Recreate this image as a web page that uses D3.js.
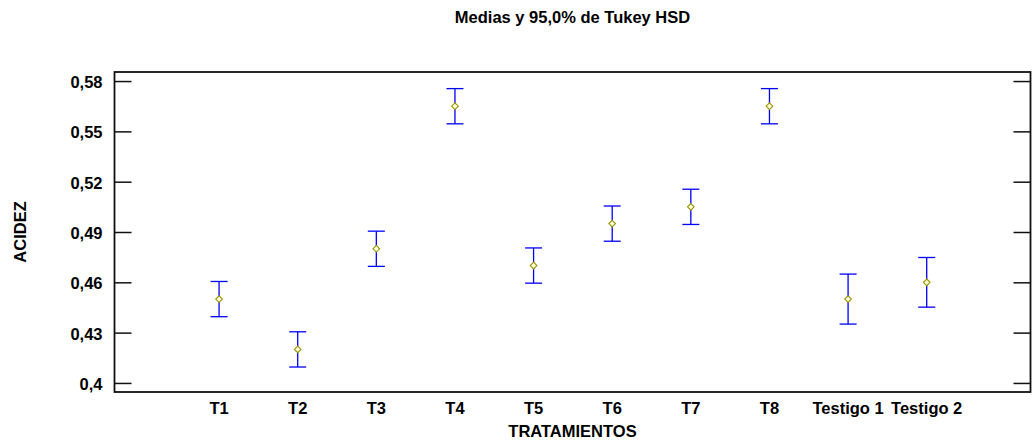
<!DOCTYPE html>
<html>
<head>
<meta charset="utf-8">
<script src="https://cdn.jsdelivr.net/npm/d3@7"></script>
<style>
  html, body { margin: 0; padding: 0; background: #fff; }
  svg text { font-family: "Liberation Sans", Arial, sans-serif; font-weight: bold; fill: #000; }
</style>
</head>
<body>
<svg id="chart" width="1035" height="444"></svg>
<script>
// Treatment groups and their Tukey HSD 95% intervals for acidity
const categories = ["T1", "T2", "T3", "T4", "T5", "T6", "T7", "T8", "Testigo 1", "Testigo 2"];
const means = [0.45, 0.42, 0.48, 0.565, 0.47, 0.495, 0.505, 0.565, 0.45, 0.46];
const lower = [0.4395, 0.4095, 0.4695, 0.5545, 0.4595, 0.4845, 0.4945, 0.5545, 0.4351, 0.4452];
const upper = [0.4605, 0.4305, 0.4905, 0.5755, 0.4805, 0.5055, 0.5155, 0.5755, 0.4649, 0.4748];

const yTickValues = [0.58, 0.55, 0.52, 0.49, 0.46, 0.43, 0.40];
const yTickLabels = ["0,58", "0,55", "0,52", "0,49", "0,46", "0,43", "0,4"];

const title = "Medias y 95,0% de Tukey HSD";
const xTitle = "TRATAMIENTOS";
const yTitle = "ACIDEZ";

const svg = d3.select("#chart");
const plot = { left: 114.5, right: 1030.5, top: 72, bottom: 392 };
const fontSize = 16.5;

const x = d3.scaleLinear().domain([-0.33, 11.32]).range([plot.left, plot.right]);
const y = d3.scaleLinear().domain([0.3946, 0.5854]).range([plot.bottom, plot.top]);

// title
svg.append("text")
  .attr("x", (plot.left + plot.right) / 2).attr("y", 22.5)
  .attr("text-anchor", "middle")
  .style("font-size", fontSize + "px")
  .text(title);

// left axis: labels outside, ticks pointing into the plot
const yAxisLeft = d3.axisLeft(y)
  .tickValues(yTickValues)
  .tickFormat((d, i) => yTickLabels[i])
  .tickSize(-17)
  .tickPadding(12);
const gl = svg.append("g").attr("transform", `translate(${plot.left},0)`).call(yAxisLeft);
gl.select(".domain").remove();
gl.selectAll(".tick line").attr("stroke", "#111").attr("stroke-width", 1.5);
gl.selectAll(".tick text")
  .style("font-size", fontSize + "px")
  .style("font-family", "'Liberation Sans', Arial, sans-serif")
  .style("font-weight", "bold")
  .attr("fill", "#000")
  .attr("dy", "0.4em");

// right axis: ticks only
const yAxisRight = d3.axisRight(y)
  .tickValues(yTickValues)
  .tickFormat("")
  .tickSize(-17);
const gr = svg.append("g").attr("transform", `translate(${plot.right},0)`).call(yAxisRight);
gr.select(".domain").remove();
gr.selectAll(".tick line").attr("stroke", "#111").attr("stroke-width", 1.5);

// frame
svg.append("rect")
  .attr("x", plot.left).attr("y", plot.top)
  .attr("width", plot.right - plot.left).attr("height", plot.bottom - plot.top)
  .attr("fill", "none").attr("stroke", "#111").attr("stroke-width", 1.8);

// category labels
svg.append("g").selectAll("text")
  .data(categories)
  .join("text")
  .attr("x", (d, i) => x(i + 1))
  .attr("y", 414)
  .attr("text-anchor", "middle")
  .style("font-size", fontSize + "px")
  .text(d => d);

// axis titles
svg.append("text")
  .attr("x", (plot.left + plot.right) / 2).attr("y", 437)
  .attr("text-anchor", "middle")
  .style("font-size", fontSize + "px")
  .text(xTitle);

svg.append("text")
  .attr("transform", `translate(26,${(plot.top + plot.bottom) / 2}) rotate(-90)`)
  .attr("text-anchor", "middle")
  .style("font-size", fontSize + "px")
  .text(yTitle);

// interval bars
const bars = svg.append("g").attr("stroke", "#0000ff").attr("stroke-width", 1.3).attr("fill", "none");
categories.forEach((c, i) => {
  const cx = x(i + 1);
  bars.append("line").attr("x1", cx).attr("x2", cx).attr("y1", y(lower[i])).attr("y2", y(upper[i]));
  bars.append("line").attr("x1", cx - 8.5).attr("x2", cx + 8.5).attr("y1", y(upper[i])).attr("y2", y(upper[i]));
  bars.append("line").attr("x1", cx - 8.5).attr("x2", cx + 8.5).attr("y1", y(lower[i])).attr("y2", y(lower[i]));
});

// mean markers (diamonds)
const diamond = d3.symbol().type(d3.symbolDiamond2).size(28);
svg.append("g").selectAll("path")
  .data(means)
  .join("path")
  .attr("d", diamond)
  .attr("transform", (d, i) => `translate(${x(i + 1)},${y(d)})`)
  .attr("fill", "#ffffe0")
  .attr("stroke", "#9a9400")
  .attr("stroke-width", 1.1);
</script>
</body>
</html>
